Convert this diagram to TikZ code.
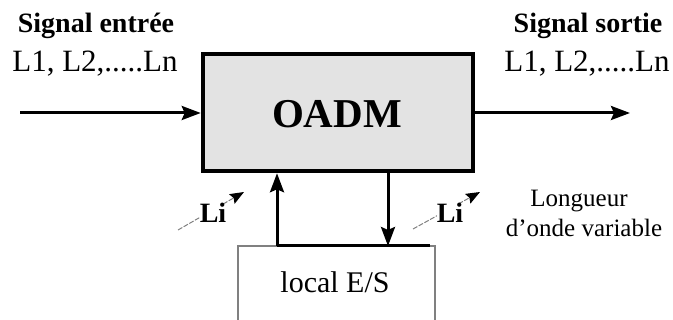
\documentclass[tikz,border=0pt]{standalone}
\usepackage{fontspec}
\setmainfont{Liberation Serif}
\usetikzlibrary{arrows.meta}
\begin{document}
\begin{tikzpicture}[x=1pt,y=-1pt,
  sig/.style={line width=3pt,-{Stealth[length=19pt,width=14pt,inset=3pt]}},
  liarrow/.style={gray,line width=1pt,dash pattern=on 5pt off 1.5pt,
    -{Stealth[length=14pt,width=11pt,inset=2pt,color=black]}},
  lbl/.style={inner sep=0pt,anchor=base},
  head/.style={lbl,font=\fontsize{28}{32}\selectfont\bfseries},
  chan/.style={lbl,font=\fontsize{31}{34}\selectfont},
  note/.style={lbl,font=\fontsize{25}{28}\selectfont},
  lam/.style={lbl,font=\fontsize{28}{30}\selectfont\bfseries,fill=white}]
\useasboundingbox (0,0) rectangle (673,320);

% central add/drop multiplexer
\node[draw,line width=4.5pt,fill=black!11,minimum width=270pt,minimum height=117pt,
  inner sep=0pt] (oadm) at (338,112.5) {};
\node[lbl,font=\fontsize{41}{44}\selectfont\bfseries] (oadmtxt) at (337,128) {OADM};

% local add/drop port
\node[draw=gray,line width=1.2pt,minimum width=197pt,minimum height=84pt,
  inner sep=0pt] (local) at (336.5,288) {};
\node[lbl,font=\fontsize{30}{33}\selectfont] (localtxt) at (335,293) {local E/S};

% input and output signals
\coordinate (src) at (20,113);
\coordinate (dst) at (630,113);
\draw[sig] (src) -- (oadm.west |- src);
\draw[sig] (oadm.east |- dst) -- (dst);

% add and drop paths
\coordinate (addp) at (277,246);
\coordinate (dropp) at (388,246);
\coordinate (busend) at (430,246);
\draw[line width=3pt] (addp) -- (busend);
\draw[sig] (addp) -- (addp |- oadm.south);
\draw[sig] (dropp |- oadm.south) -- (dropp);

% tunable wavelength markers
\coordinate (ta) at (178,230);
\coordinate (ha) at (244,192);
\coordinate (tb) at (413,229);
\coordinate (hb) at (480,192);
\draw[liarrow] (ta) -- (ha);
\draw[liarrow] (tb) -- (hb);
\node[lam] (lia) at (213,223) {Li};
\node[lam] (lib) at (450,223) {Li};

% labels
\node[head] (sin) at (96,33) {Signal entrée};
\node[chan] (lin) at (95,72) {L1, L2,.....Ln};
\node[head] (sout) at (588,33) {Signal sortie};
\node[chan] (lout) at (587,72) {L1, L2,.....Ln};
\node[note] (lg1) at (579,207) {Longueur};
\node[note] (lg2) at (584,237) {d'onde variable};
\end{tikzpicture}
\end{document}
